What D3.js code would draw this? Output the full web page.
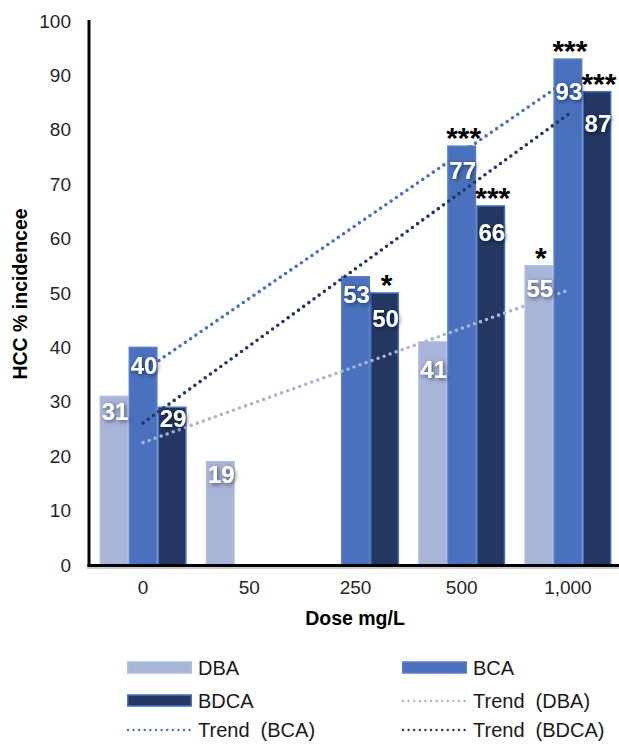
<!DOCTYPE html>
<html>
<head>
<meta charset="utf-8">
<script src="https://cdn.jsdelivr.net/npm/d3@7"></script>
<style>
  html, body { margin: 0; padding: 0; background: #fff; }
  svg { display: block; }
</style>
</head>
<body>
<svg id="chart" width="619" height="744"></svg>
<script>
// Dose groups on the x axis.
const doses = ['0', '50', '250', '500', '1,000'];
const seriesNames = ['DBA', 'BCA', 'BDCA'];

// HCC % incidence per dose, null where no bar is drawn.
const dbaValues = [31, 19, null, 41, 55];
const bcaValues = [40, null, 53, 77, 93];
const bdcaValues = [29, null, 50, 66, 87];

// Significance marks above the bars.
const dbaStars = ['', '', '', '', '*'];
const bcaStars = ['', '', '', '***', '***'];
const bdcaStars = ['', '', '*', '***', '***'];

const yTicks = [0, 10, 20, 30, 40, 50, 60, 70, 80, 90, 100];

const colors = {DBA: '#a8b4d8', BCA: '#4a71bd', BDCA: '#243763'};
const strokes = {DBA: '#b3bedf', BCA: '#5a7ec6', BDCA: '#4472c4'};

const series = [
  {name: 'DBA', values: dbaValues, stars: dbaStars},
  {name: 'BCA', values: bcaValues, stars: bcaStars},
  {name: 'BDCA', values: bdcaValues, stars: bdcaStars},
];

const svg = d3.select('#chart');

const x0 = d3.scaleBand()
    .domain(doses)
    .range([90, 621])
    .paddingInner(0.18)
    .paddingOuter(0.09);

const x1 = d3.scaleBand()
    .domain(seriesNames)
    .range([0, x0.bandwidth()]);

const y = d3.scaleLinear().domain([0, 100]).range([565, 21]);

const defs = svg.append('defs');
const shadow = defs.append('filter')
    .attr('id', 'labelShadow')
    .attr('x', '-30%').attr('y', '-30%')
    .attr('width', '160%').attr('height', '160%');
shadow.append('feDropShadow')
    .attr('dx', 1.5).attr('dy', 1.5)
    .attr('stdDeviation', 2)
    .attr('flood-color', '#000')
    .attr('flood-opacity', 0.55);

// Y axis: labels only, plus the heavy black spine.
const yAxis = svg.append('g')
    .attr('transform', 'translate(89,0)')
    .call(d3.axisLeft(y).tickValues(yTicks).tickSize(0).tickPadding(18));
yAxis.select('.domain').remove();
yAxis.selectAll('text')
    .attr('font-family', 'Liberation Sans, Arial, sans-serif')
    .attr('font-size', 19)
    .attr('fill', '#262626');

// Bars
const bars = [];
series.forEach(s => {
  s.values.forEach((v, i) => {
    if (v == null) return;
    bars.push({name: s.name, dose: doses[i], value: v, star: s.stars[i]});
  });
});

svg.append('g').selectAll('rect')
    .data(bars)
    .join('rect')
    .attr('x', d => x0(d.dose) + x1(d.name) + 0.75)
    .attr('y', d => y(d.value))
    .attr('width', x1.bandwidth() - 1.5)
    .attr('height', d => y(0) - y(d.value))
    .attr('fill', d => colors[d.name])
    .attr('stroke', d => strokes[d.name])
    .attr('stroke-width', 1.5);

// Linear trend lines (least squares over category index), like the
// spreadsheet trendline, spanning the first to the last dose group.
function trendOf(values) {
  const pts = values.map((v, i) => [i + 1, v]).filter(p => p[1] != null);
  const mx = d3.mean(pts, p => p[0]);
  const my = d3.mean(pts, p => p[1]);
  const sxy = d3.sum(pts, p => (p[0] - mx) * (p[1] - my));
  const sxx = d3.sum(pts, p => (p[0] - mx) * (p[0] - mx));
  const slope = sxy / sxx;
  const icpt = my - slope * mx;
  return [1, doses.length].map(k => [k - 1, icpt + slope * k]);
}

const line = d3.line()
    .x(d => x0(doses[d[0]]) + x0.bandwidth() / 2)
    .y(d => y(d[1]));

svg.append('g').selectAll('path')
    .data(series)
    .join('path')
    .attr('d', s => line(trendOf(s.values)))
    .attr('fill', 'none')
    .attr('stroke', s => colors[s.name])
    .attr('stroke-width', 3.6)
    .attr('stroke-linecap', 'round')
    .attr('stroke-dasharray', '0 6.4');

// X axis
svg.append('line')
    .attr('x1', 87).attr('x2', 619)
    .attr('y1', 568).attr('y2', 568)
    .attr('stroke', '#bdbdbd').attr('stroke-width', 1.5);
svg.append('line')
    .attr('x1', 87.5).attr('x2', 619)
    .attr('y1', 565.5).attr('y2', 565.5)
    .attr('stroke', '#000').attr('stroke-width', 3);
svg.append('line')
    .attr('x1', 89).attr('x2', 89)
    .attr('y1', 20).attr('y2', 567)
    .attr('stroke', '#000').attr('stroke-width', 3);

const xAxis = svg.append('g')
    .attr('transform', 'translate(0,566)')
    .call(d3.axisBottom(x0).tickSize(0).tickPadding(15));
xAxis.select('.domain').remove();
xAxis.selectAll('text')
    .attr('font-family', 'Liberation Sans, Arial, sans-serif')
    .attr('font-size', 19)
    .attr('fill', '#262626');

// Value labels, hand-placed in the original so each has its own gap.
const labelGap = {
  'DBA|0': 7, 'DBA|50': 4, 'DBA|500': 19, 'DBA|1,000': 14,
  'BCA|0': 10, 'BCA|250': 9, 'BCA|500': 16, 'BCA|1,000': 24,
  'BDCA|0': 3, 'BDCA|250': 17, 'BDCA|500': 18, 'BDCA|1,000': 23,
};

svg.append('g').selectAll('text')
    .data(bars)
    .join('text')
    .attr('x', d => x0(d.dose) + x1(d.name) + x1.bandwidth() / 2 + 1)
    .attr('y', d => y(d.value) + (labelGap[d.name + '|' + d.dose] ?? 12) + 17)
    .attr('text-anchor', 'middle')
    .attr('font-family', 'Liberation Sans, Arial, sans-serif')
    .attr('font-weight', 700)
    .attr('font-size', 24)
    .attr('fill', '#fff')
    .attr('filter', 'url(#labelShadow)')
    .text(d => d.value);

// Significance stars
svg.append('g').selectAll('text')
    .data(bars.filter(d => d.star))
    .join('text')
    .attr('x', d => x0(d.dose) + x1(d.name) + x1.bandwidth() / 2 + 2)
    .attr('y', d => y(d.value) + 2)
    .attr('text-anchor', 'middle')
    .attr('font-family', 'Liberation Sans, Arial, sans-serif')
    .attr('font-weight', 700)
    .attr('font-size', 30)
    .attr('fill', '#000')
    .text(d => d.star);

// Axis titles
svg.append('text')
    .attr('transform', 'translate(27,294) rotate(-90)')
    .attr('text-anchor', 'middle')
    .attr('font-family', 'Liberation Sans, Arial, sans-serif')
    .attr('font-weight', 700)
    .attr('font-size', 19.5)
    .attr('fill', '#000')
    .text('HCC % incidencee');

svg.append('text')
    .attr('x', 355).attr('y', 625)
    .attr('text-anchor', 'middle')
    .attr('font-family', 'Liberation Sans, Arial, sans-serif')
    .attr('font-weight', 700)
    .attr('font-size', 19.5)
    .attr('fill', '#000')
    .text('Dose mg/L');

// Legend
const legendItems = [
  {label: 'DBA', key: 'DBA', kind: 'bar'},
  {label: 'BCA', key: 'BCA', kind: 'bar'},
  {label: 'BDCA', key: 'BDCA', kind: 'bar'},
  {label: 'Trend  (DBA)', key: 'DBA', kind: 'trend'},
  {label: 'Trend  (BCA)', key: 'BCA', kind: 'trend'},
  {label: 'Trend  (BDCA)', key: 'BDCA', kind: 'trend'},
];
const legendCols = [127, 402];
const legendRows = [668, 701, 730];

const legend = svg.append('g').selectAll('g')
    .data(legendItems)
    .join('g')
    .attr('transform', (d, i) =>
        'translate(' + legendCols[i % 2] + ',' + legendRows[Math.floor(i / 2)] + ')');

legend.filter(d => d.kind === 'bar').append('rect')
    .attr('x', 0.75).attr('y', -6)
    .attr('width', 63.5).attr('height', 11)
    .attr('fill', d => colors[d.key])
    .attr('stroke', d => strokes[d.key])
    .attr('stroke-width', 1.5);

legend.filter(d => d.kind === 'trend').append('line')
    .attr('x1', 1).attr('x2', 64)
    .attr('y1', 0).attr('y2', 0)
    .attr('stroke', d => colors[d.key])
    .attr('stroke-width', 2.4)
    .attr('stroke-linecap', 'round')
    .attr('stroke-dasharray', '0 5.6');

legend.append('text')
    .attr('x', 71).attr('y', 7)
    .attr('font-family', 'Liberation Sans, Arial, sans-serif')
    .attr('font-size', 20)
    .attr('fill', '#1a1a1a')
    .style('white-space', 'pre')
    .text(d => d.label);
</script>
</body>
</html>
